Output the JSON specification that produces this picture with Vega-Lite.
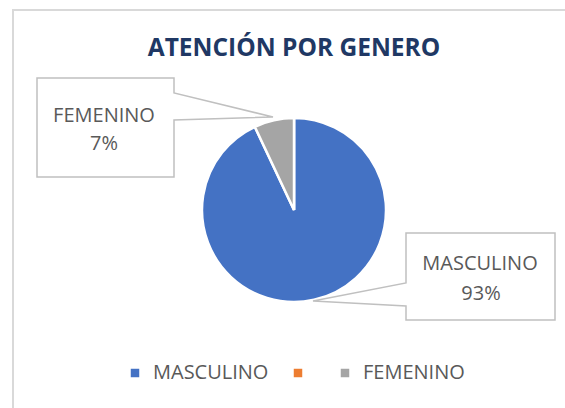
{
  "$schema": "https://vega.github.io/schema/vega-lite/v6.json",
  "autosize": "none",
  "padding": {"left": 13, "top": 10, "right": -10, "bottom": -2},
  "width": 562,
  "height": 400,
  "background": "white",
  "view": {"stroke": "#D9D9D9", "strokeWidth": 2},
  "config": {
    "view": {"stroke": "#D9D9D9", "strokeWidth": 2},
    "font": "Open Sans"
  },
  "title": {
    "text": "ATENCIÓN POR GENERO",
    "font": "Open Sans",
    "fontSize": 24.5,
    "fontWeight": "bold",
    "color": "#203864",
    "anchor": "middle",
    "baseline": "alphabetic",
    "offset": -70
  },
  "data": {
    "values": [
      {"Genero": "MASCULINO", "Porcentaje": 0.93},
      {"Genero": " ", "Porcentaje": 0},
      {"Genero": "FEMENINO", "Porcentaje": 0.07}
    ]
  },
  "layer": [
    {
      "mark": {"type": "arc", "outerRadius": 92, "stroke": "white", "strokeWidth": 2.5},
      "encoding": {
        "theta": {"field": "Porcentaje", "type": "quantitative", "stack": true},
        "order": {"field": "Genero", "sort": "descending"},
        "color": {
          "field": "Genero",
          "type": "nominal",
          "scale": {"domain": ["MASCULINO", " ", "FEMENINO"], "range": ["#4472C4", "#ED7D31", "#A5A5A5"]},
          "legend": {
            "orient": "none",
            "legendX": 112,
            "legendY": 353,
            "direction": "horizontal",
            "title": null,
            "symbolType": "square",
            "symbolSize": 72,
            "symbolStrokeWidth": 0,
            "labelFont": "Open Sans",
            "labelFontSize": 20,
            "labelColor": "#595959",
            "labelOffset": 8,
            "columnPadding": 19,
            "padding": 0
          }
        }
      }
    },
    {
      "transform": [{"filter": "datum.Genero === 'FEMENINO'"}],
      "mark": {"type": "point", "shape": "M-257,-132 L-120,-132 L-120,-117 L-21,-93 L-120,-90 L-120,-33 L-257,-33 Z", "size": 4, "filled": true, "fill": "white", "stroke": "#C0C0C0", "strokeWidth": 1.5, "opacity": 1},
      "encoding": {}
    },
    {
      "transform": [{"filter": "datum.Genero === 'MASCULINO'"}],
      "mark": {"type": "point", "shape": "M112,23 L261,23 L261,110 L112,110 L112,96 L19,91 L112,73 Z", "size": 4, "filled": true, "fill": "white", "stroke": "#C0C0C0", "strokeWidth": 1.5, "opacity": 1},
      "encoding": {}
    },
    {
      "transform": [{"filter": "datum.Genero === 'FEMENINO'"}],
      "mark": {"type": "text", "font": "Open Sans", "fontSize": 20, "color": "#595959", "align": "center", "baseline": "alphabetic", "dx": -190, "dy": -88},
      "encoding": {"text": {"field": "Genero"}}
    },
    {
      "transform": [{"filter": "datum.Genero === 'FEMENINO'"}],
      "mark": {"type": "text", "font": "Open Sans", "fontSize": 20, "color": "#595959", "align": "center", "baseline": "alphabetic", "dx": -190, "dy": -60},
      "encoding": {"text": {"field": "Porcentaje", "type": "quantitative", "format": ".0%"}}
    },
    {
      "transform": [{"filter": "datum.Genero === 'MASCULINO'"}],
      "mark": {"type": "text", "font": "Open Sans", "fontSize": 20, "color": "#595959", "align": "center", "baseline": "alphabetic", "dx": 186, "dy": 60},
      "encoding": {"text": {"field": "Genero"}}
    },
    {
      "transform": [{"filter": "datum.Genero === 'MASCULINO'"}],
      "mark": {"type": "text", "font": "Open Sans", "fontSize": 20, "color": "#595959", "align": "center", "baseline": "alphabetic", "dx": 187, "dy": 90},
      "encoding": {"text": {"field": "Porcentaje", "type": "quantitative", "format": ".0%"}}
    }
  ]
}
